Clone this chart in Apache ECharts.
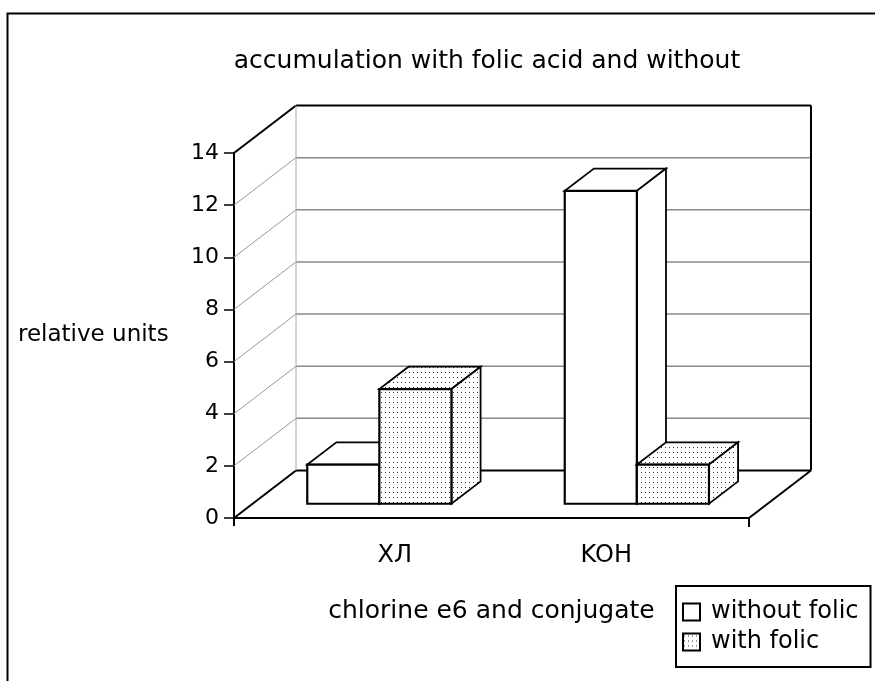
<!DOCTYPE html>
<html>
<head>
<meta charset="utf-8">
<script src="https://cdn.jsdelivr.net/npm/echarts@6/dist/echarts.min.js"></script>
<style>html,body{margin:0;background:#fff}#main{width:875px;height:681px}</style>
</head>
<body>
<div id="main"></div>
<script>
var categories = ['ХЛ', 'KOH'];
var seriesNames = ['without folic', 'with folic'];
var withoutFolic = [1.5, 12];
var withFolic = [4.4, 1.5];
var yTicks = [0, 2, 4, 6, 8, 10, 12, 14];

var FONT = 'DejaVu Sans';
var DEPTH = [62, -47.5];   // offset from the front axis to the back wall
var BAR_FRONT = 0.30;      // bars start this far into the depth
var BAR_DEPTH = 0.47;      // and are this deep

// dotted fill, like the printed pattern
var dots = document.createElement('canvas');
dots.width = 4; dots.height = 5;
var ctx = dots.getContext('2d');
ctx.fillStyle = '#fff'; ctx.fillRect(0, 0, 4, 5);
ctx.fillStyle = '#333'; ctx.fillRect(1, 2, 1, 1);
var dotFill = { image: dots, repeat: 'repeat' };
var fills = ['#fff', dotFill];

function shift(p, k) { return [p[0] + DEPTH[0] * k, p[1] + DEPTH[1] * k]; }

function lineEl(a, b, color, w) {
    return { type: 'line', shape: { x1: a[0], y1: a[1], x2: b[0], y2: b[1] },
        style: { stroke: color, lineWidth: w } };
}

// walls and floor of the pseudo 3d box
function renderFrame(params, api) {
    var kids = [];
    var band = api.size([1, 0])[0];
    var last = categories.length - 1;
    yTicks.forEach(function (v, i) {
        var l = api.coord([0, v]); l = [l[0] - band / 2, l[1]];
        var r = api.coord([last, v]); r = [r[0] + band / 2, r[1]];
        var edge = (i === 0 || i === yTicks.length - 1);
        kids.push(lineEl(shift(l, 1), shift(r, 1), edge ? '#000' : '#888', edge ? 2 : 1.5));
        kids.push(lineEl(l, shift(l, 1), edge ? '#000' : '#999', edge ? 2 : 1));
    });
    var vmax = yTicks[yTicks.length - 1];
    var l0 = api.coord([0, 0]); l0 = [l0[0] - band / 2, l0[1]];
    var r0 = api.coord([last, 0]); r0 = [r0[0] + band / 2, r0[1]];
    var lt = api.coord([0, vmax]); lt = [lt[0] - band / 2, lt[1]];
    var rt = api.coord([last, vmax]); rt = [rt[0] + band / 2, rt[1]];
    kids.push(lineEl(shift(lt, 1), shift(l0, 1), '#aaa', 1));
    kids.push(lineEl(shift(rt, 1), shift(r0, 1), '#000', 2));
    kids.push(lineEl(r0, shift(r0, 1), '#000', 2));
    kids.push(lineEl(r0, [r0[0], r0[1] + 9], '#000', 2));
    kids.push(lineEl(l0, [l0[0], l0[1] + 8], '#000', 2));
    return { type: 'group', children: kids };
}

function makeBar(s) {
    return function (params, api) {
        var ci = api.value(0), v = api.value(1);
        var band = api.size([1, 0])[0];
        var bw = band * 0.28;
        var top = api.coord([ci, v]), base = api.coord([ci, 0]);
        var x0 = top[0] - bw + s * bw + DEPTH[0] * BAR_FRONT - 2;
        var x1 = x0 + bw;
        var yt = top[1] + DEPTH[1] * BAR_FRONT;
        var yb = base[1] + DEPTH[1] * BAR_FRONT;
        var dx = DEPTH[0] * BAR_DEPTH, dy = DEPTH[1] * BAR_DEPTH;
        var st = { fill: fills[s], stroke: '#000', lineWidth: 1.8 };
        return { type: 'group', children: [
            { type: 'polygon', shape: { points: [[x0, yt], [x1, yt], [x1 + dx, yt + dy], [x0 + dx, yt + dy]] }, style: st },
            { type: 'polygon', shape: { points: [[x1, yt], [x1, yb], [x1 + dx, yb + dy], [x1 + dx, yt + dy]] }, style: st },
            { type: 'rect', shape: { x: x0, y: yt, width: bw, height: yb - yt }, style: { fill: fills[s], stroke: '#000', lineWidth: 2.2 } }
        ] };
    };
}

var chart = echarts.init(document.getElementById('main'));
chart.setOption({
    backgroundColor: '#fff',
    animation: false,
    title: {
        text: 'accumulation with folic acid and without',
        left: 482, top: 44, textAlign: 'center',
        textStyle: { fontFamily: FONT, fontSize: 25, fontWeight: 'normal', color: '#000' }
    },
    legend: {
        orient: 'vertical', left: 676, top: 586,
        data: [
            { name: seriesNames[0], icon: 'rect', itemStyle: { color: '#fff', borderColor: '#000', borderWidth: 2 } },
            { name: seriesNames[1], icon: 'rect', itemStyle: { color: dotFill, borderColor: '#000', borderWidth: 2 } }
        ],
        itemWidth: 17, itemHeight: 17, itemGap: 6,
        borderColor: '#000', borderWidth: 2, padding: [14, 12, 13, 6],
        textStyle: { fontFamily: FONT, fontSize: 24, color: '#000', padding: [0, 0, 0, 6] }
    },
    grid: { left: 234, top: 153, width: 515, height: 365 },
    xAxis: {
        type: 'category', data: categories,
        name: 'chlorine e6 and conjugate', nameLocation: 'middle', nameGap: 81,
        nameTextStyle: { fontFamily: FONT, fontSize: 25, color: '#000' },
        axisLine: { lineStyle: { color: '#000', width: 2 } },
        axisTick: { show: false },
        axisLabel: {
            margin: 26, color: '#000',
            formatter: function (v, i) { return '{c' + i + '|' + v + '}'; },
            rich: {
                c0: { fontFamily: FONT, fontSize: 24, color: '#000', padding: [0, 0, 0, 64] },
                c1: { fontFamily: FONT, fontSize: 24, color: '#000', padding: [0, 28, 0, 0] }
            }
        }
    },
    yAxis: {
        type: 'value', min: 0, max: 14, interval: 2,
        axisLine: { show: true, lineStyle: { color: '#000', width: 2 } },
        axisTick: { show: true, length: 10, lineStyle: { color: '#000', width: 1.5 } },
        axisLabel: { margin: 15, fontFamily: FONT, fontSize: 22, color: '#000' },
        splitLine: { show: false }
    },
    graphic: [
        { type: 'rect', left: 5, top: 11, shape: { width: 900, height: 700 },
          style: { fill: 'none', stroke: '#000', lineWidth: 2 } },
        { type: 'text', left: 18, top: 324,
          style: { text: 'relative units', fontFamily: FONT, fontSize: 23, fill: '#000' } }
    ],
    series: [
        { type: 'custom', name: 'frame', z: 1, silent: true, renderItem: renderFrame, data: [[0, 0]] },
        { type: 'custom', name: seriesNames[0], z: 2, renderItem: makeBar(0),
          itemStyle: { color: '#fff', borderColor: '#000' },
          data: withoutFolic.map(function (v, i) { return [i, v]; }) },
        { type: 'custom', name: seriesNames[1], z: 3, renderItem: makeBar(1),
          itemStyle: { color: dotFill, borderColor: '#000' },
          data: withFolic.map(function (v, i) { return [i, v]; }) }
    ]
});
</script>
</body>
</html>
